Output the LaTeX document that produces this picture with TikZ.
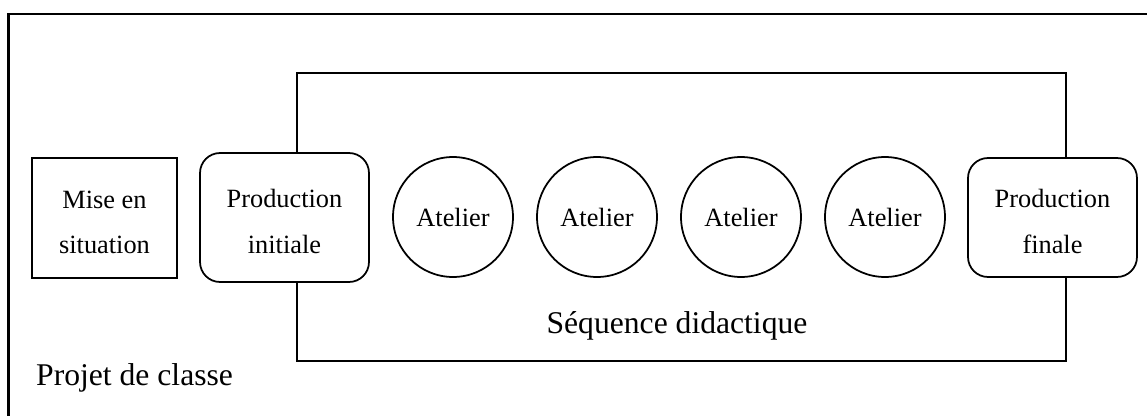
\documentclass[tikz,border=0pt]{standalone}
\usepackage{fontspec}
\setmainfont{Liberation Serif}

\tikzset{
    etape/.style={draw=black, line width=1pt, fill=white, align=center, inner sep=0pt,
        font=\fontsize{15}{26}\selectfont},
    atelier/.style={etape, circle, minimum size=2.4cm}
}

\begin{document}
\begin{tikzpicture}[x=0.02cm, y=-0.02cm]
            \useasboundingbox (0,0) rectangle (1147,416);

            % Cadre du projet
            \draw[black, line width=1.2pt] (8.5,14) rectangle (1170,440);

            % Cadre de la séquence
            \draw[black, line width=1pt] (297,73) rectangle (1066,361);

            % Étapes
            \node[etape, minimum width=2.9cm, minimum height=2.4cm] (mise) at (104.5,218) {\rule{0pt}{15pt}Mise en\\situation};
            \node[etape, rounded corners=0.4cm, minimum width=3.38cm, minimum height=2.58cm] (pinit) at (284.5,217.5) {\rule{0pt}{15pt}Production\\initiale};
            \node[etape, rounded corners=0.4cm, minimum width=3.38cm, minimum height=2.38cm] (pfin) at (1052.5,217.5) {\rule{0pt}{15pt}Production\\finale};

            % Ateliers
            \node[atelier] (at1) at (453,217) {Atelier};
            \node[atelier] (at2) at (597,217) {Atelier};
            \node[atelier] (at3) at (741,217) {Atelier};
            \node[atelier] (at4) at (885,217) {Atelier};

            % Titres
            \node[anchor=base, font=\fontsize{18}{22}\selectfont] (seq) at (677,333) {Séquence didactique};
            \node[anchor=base west, font=\fontsize{18}{22}\selectfont] (projet) at (30,385) {Projet de classe};
        \end{tikzpicture}
\end{document}
